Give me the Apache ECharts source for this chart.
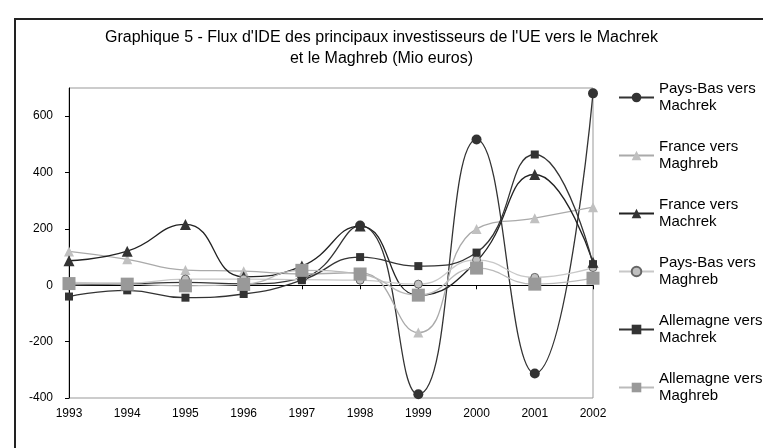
<!DOCTYPE html>
<html>
<head>
<meta charset="utf-8">
<script src="https://cdn.jsdelivr.net/npm/echarts@6/dist/echarts.min.js"></script>
<style>
  html, body { margin: 0; padding: 0; background: #fff; }
  #echarts { width: 763px; height: 448px; }
</style>
</head>
<body>
<div id="echarts"></div>
<script>
// Années (axe des catégories)
var annees = ['1993', '1994', '1995', '1996', '1997', '1998', '1999', '2000', '2001', '2002'];

// Flux d'IDE en millions d'euros
var paysBasMachrek = [0, 5, 10, 5, 25, 212, -387, 517, -313, 681];
var franceMaghreb = [120, 92, 54, 50, 40, 45, -168, 200, 238, 277];
var franceMachrek = [87, 121, 216, 30, 68, 210, -35, 85, 393, 82];
var paysBasMaghreb = [10, 8, 22, 22, 20, 18, 4, 90, 28, 63];
var allemagneMachrek = [-40, -18, -44, -31, 18, 100, 68, 116, 464, 75];
var allemagneMaghreb = [6, 4, -2, 3, 53, 40, -35, 61, 4, 25];

var police = 'Arial, "Liberation Sans", sans-serif';

var chart = echarts.init(document.getElementById('echarts'));

// Petite fonction pour créer une série lissée
function serie(nom, donnees, couleurLigne, symbole, taille, remplissage, bordure) {
    return {
        name: nom,
        type: 'line',
        smooth: true,
        data: donnees,
        symbol: symbole,
        symbolSize: taille,
        lineStyle: { color: couleurLigne, width: 1.3 },
        itemStyle: {
            color: remplissage,
            borderColor: bordure || remplissage,
            borderWidth: bordure ? 1 : 0
        },
        emphasis: { disabled: true }
    };
}

var options = {
    backgroundColor: '#fff',
    animation: false,
    title: {
        text: "Graphique 5 - Flux d'IDE des principaux investisseurs de l'UE vers le Machrek\net le Maghreb (Mio euros)",
        left: 'center',
        top: 27,
        padding: [0, 0, 0, 14],
        textStyle: {
            fontFamily: police,
            fontSize: 16,
            fontWeight: 'normal',
            color: '#000',
            lineHeight: 21
        }
    },
    graphic: [{
        type: 'rect',
        shape: { x: 15, y: 19, width: 800, height: 500 },
        style: { fill: 'none', stroke: '#222', lineWidth: 2 },
        z: -1
    }],
    legend: {
        orient: 'vertical',
        left: 618,
        top: 72,
        padding: 0,
        itemWidth: 35,
        itemHeight: 12,
        itemGap: 7,
        textStyle: {
            fontFamily: police,
            fontSize: 15,
            color: '#000',
            lineHeight: 17,
            padding: [17, 0, 0, 0]
        },
        data: ['Pays-Bas vers\nMachrek', 'France vers\nMaghreb', 'France vers\nMachrek',
               'Pays-Bas vers\nMaghreb', 'Allemagne vers\nMachrek', 'Allemagne vers\nMaghreb']
    },
    grid: {
        left: 69,
        right: 170,
        top: 88,
        bottom: 50,
        show: true,
        borderColor: '#999',
        borderWidth: 1
    },
    xAxis: [{
        type: 'category',
        data: annees,
        boundaryGap: false,
        axisLine: { show: false, onZero: false },
        axisTick: { show: false },
        axisLabel: { fontFamily: police, fontSize: 12, color: '#000', margin: 10 }
    }, {
        type: 'category',
        data: annees,
        boundaryGap: false,
        position: 'bottom',
        axisLine: { onZero: true, lineStyle: { color: '#000', width: 1 } },
        axisTick: { show: true, length: 4, lineStyle: { color: '#000' } },
        axisLabel: { show: false }
    }],
    yAxis: {
        type: 'value',
        min: -400,
        max: 700,
        interval: 200,
        splitLine: { show: false },
        axisLine: { show: true, lineStyle: { color: '#000', width: 1 } },
        axisTick: { show: true, length: 4, lineStyle: { color: '#000' } },
        axisLabel: { fontFamily: police, fontSize: 12, color: '#000', margin: 16, showMaxLabel: false }
    },
    series: [
        serie('Pays-Bas vers\nMachrek', paysBasMachrek, '#333', 'circle', 10, '#333'),
        serie('France vers\nMaghreb', franceMaghreb, '#aaa', 'triangle', 10, '#c0c0c0'),
        serie('France vers\nMachrek', franceMachrek, '#222', 'triangle', 11, '#333'),
        serie('Pays-Bas vers\nMaghreb', paysBasMaghreb, '#c8c8c8', 'circle', 8, '#c0c0c0', '#666'),
        serie('Allemagne vers\nMachrek', allemagneMachrek, '#333', 'rect', 8, '#333'),
        serie('Allemagne vers\nMaghreb', allemagneMaghreb, '#bbb', 'rect', 13, '#999')
    ]
};

chart.setOption(options);
</script>
</body>
</html>
